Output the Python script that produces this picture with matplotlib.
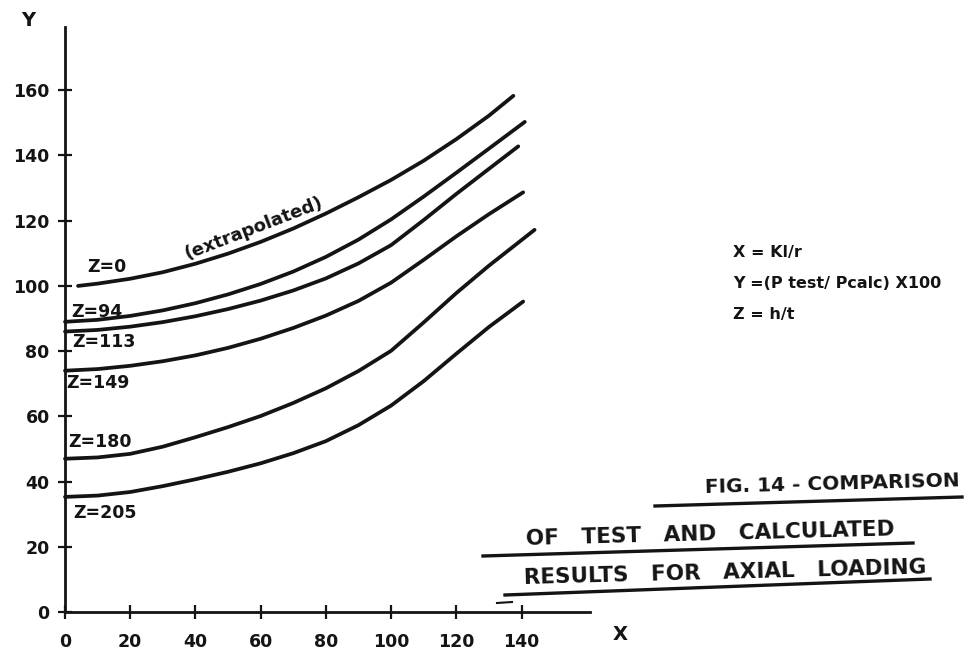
import numpy as np
import matplotlib.pyplot as plt

W, H = 964, 654  # output size in pixels

plt.rcParams['font.family'] = ['DejaVu Sans']
plt.rcParams['font.weight'] = 'bold'

# readings: X = Kl/r, Y = (Ptest/Pcalc) x 100, one curve per Z = h/t
z_labels = ['Z=0', 'Z=94', 'Z=113', 'Z=149', 'Z=180', 'Z=205']

x_z0 = [4, 10, 20, 30, 40, 50, 60, 70, 80, 90, 100, 110, 120, 130, 137.5]
y_z0 = [100, 100.7, 102.2, 104.2, 106.8, 109.9, 113.5, 117.6, 122.2, 127.2, 132.5, 138.4, 145.0, 152.2, 158.3]

x_z94 = [0, 10, 20, 30, 40, 50, 60, 70, 80, 90, 100, 110, 120, 130, 141]
y_z94 = [89, 89.6, 90.8, 92.5, 94.7, 97.4, 100.6, 104.4, 108.9, 114.2, 120.4, 127.4, 134.7, 142.1, 150.3]

x_z113 = [0, 10, 20, 30, 40, 50, 60, 70, 80, 90, 100, 110, 120, 130, 139]
y_z113 = [86, 86.5, 87.5, 88.9, 90.7, 92.9, 95.5, 98.6, 102.3, 106.9, 112.5, 120.2, 128.2, 135.9, 142.8]

x_z149 = [0, 10, 20, 30, 40, 50, 60, 70, 80, 90, 100, 110, 120, 130, 140.5]
y_z149 = [74, 74.5, 75.5, 76.9, 78.7, 81.0, 83.8, 87.1, 90.9, 95.4, 101.0, 108.0, 115.2, 122.0, 128.7]

x_z180 = [0, 10, 20, 30, 40, 50, 60, 70, 80, 90, 100, 110, 120, 130, 144]
y_z180 = [47, 47.4, 48.5, 50.7, 53.6, 56.7, 60.1, 64.1, 68.6, 73.9, 80.1, 88.8, 97.8, 106.2, 117.2]

x_z205 = [0, 10, 20, 30, 40, 50, 60, 70, 80, 90, 100, 110, 120, 130, 140.5]
y_z205 = [35.3, 35.7, 36.8, 38.6, 40.7, 43.0, 45.6, 48.7, 52.4, 57.3, 63.3, 70.8, 79.2, 87.4, 95.2]

x_ticks = [0, 20, 40, 60, 80, 100, 120, 140]
y_ticks = [0, 20, 40, 60, 80, 100, 120, 140, 160]

legend_lines = ['X = Kl/r', 'Y =(P test/ Pcalc) X100', 'Z = h/t']
title_lines = ['FIG. 14 - COMPARISON', 'OF   TEST   AND   CALCULATED', 'RESULTS   FOR   AXIAL   LOADING']

ink = '#141414'


def px(x, y):
    # pixel position (from top-left) -> figure fraction
    return x / W, 1 - y / H


fig = plt.figure(figsize=(W / 100, H / 100), dpi=100)
fig.patch.set_facecolor('white')
ax = fig.add_axes([65 / W, 42 / H, 525 / W, 585 / H])
ax.set_xlim(0, 161)
ax.set_ylim(0, 179.4)

for s in ['top', 'right']:
    ax.spines[s].set_visible(False)
for s in ['left', 'bottom']:
    ax.spines[s].set_linewidth(2.0)
    ax.spines[s].set_color(ink)

ax.set_xticks(x_ticks)
ax.set_yticks(y_ticks)
ax.tick_params(direction='inout', length=10, width=1.6, colors=ink, labelsize=12.5)
ax.tick_params(axis='x', pad=10)
ax.tick_params(axis='y', pad=6)

curves = [(x_z0, y_z0), (x_z94, y_z94), (x_z113, y_z113),
          (x_z149, y_z149), (x_z180, y_z180), (x_z205, y_z205)]
for xs, ys in curves:
    ax.plot(xs, ys, color=ink, lw=2.7, solid_capstyle='round', solid_joinstyle='round',
            clip_on=False)

# curve labels, hand lettered next to the Y axis
label_pos = [(107, 267), (97, 312), (104, 342), (98, 383), (100, 442), (105, 513)]
for lab, (lx, ly) in zip(z_labels, label_pos):
    fig.text(*px(lx, ly), lab, ha='center', va='center', fontsize=12.5, color=ink)

fig.text(*px(254, 228), '(extrapolated)', ha='center', va='center', rotation=21,
         fontsize=13, color=ink)

# axis letters
fig.text(*px(28, 20), 'Y', ha='center', va='center', fontsize=14, color=ink)
fig.text(*px(620, 635), 'X', ha='center', va='center', fontsize=14, color=ink)

# definitions block
for i, t in enumerate(legend_lines):
    fig.text(*px(733, 253 + 31 * i), t, ha='left', va='center', fontsize=11.5, color=ink)

# caption with hand drawn underlines
cap_pos = [(832, 484), (710, 534), (725, 573)]
cap_size = [14.5, 15.5, 15.5]
for t, (cx, cy), fs in zip(title_lines, cap_pos, cap_size):
    fig.text(*px(cx, cy), t, ha='center', va='center', rotation=1.5,
             fontsize=fs, fontweight='bold', color=ink)

underlines = [((655, 506), (962, 497)), ((483, 556), (913, 543)), ((505, 595), (930, 579))]
for (x0, y0), (x1, y1) in underlines:
    a, b = px(x0, y0)
    c, d = px(x1, y1)
    fig.add_artist(plt.Line2D([a, c], [b, d], color=ink, lw=2.4, transform=fig.transFigure))
a, b = px(497, 603)
c, d = px(512, 602)
fig.add_artist(plt.Line2D([a, c], [b, d], color=ink, lw=1.5, transform=fig.transFigure))

fig.savefig('out.png', dpi=100)
